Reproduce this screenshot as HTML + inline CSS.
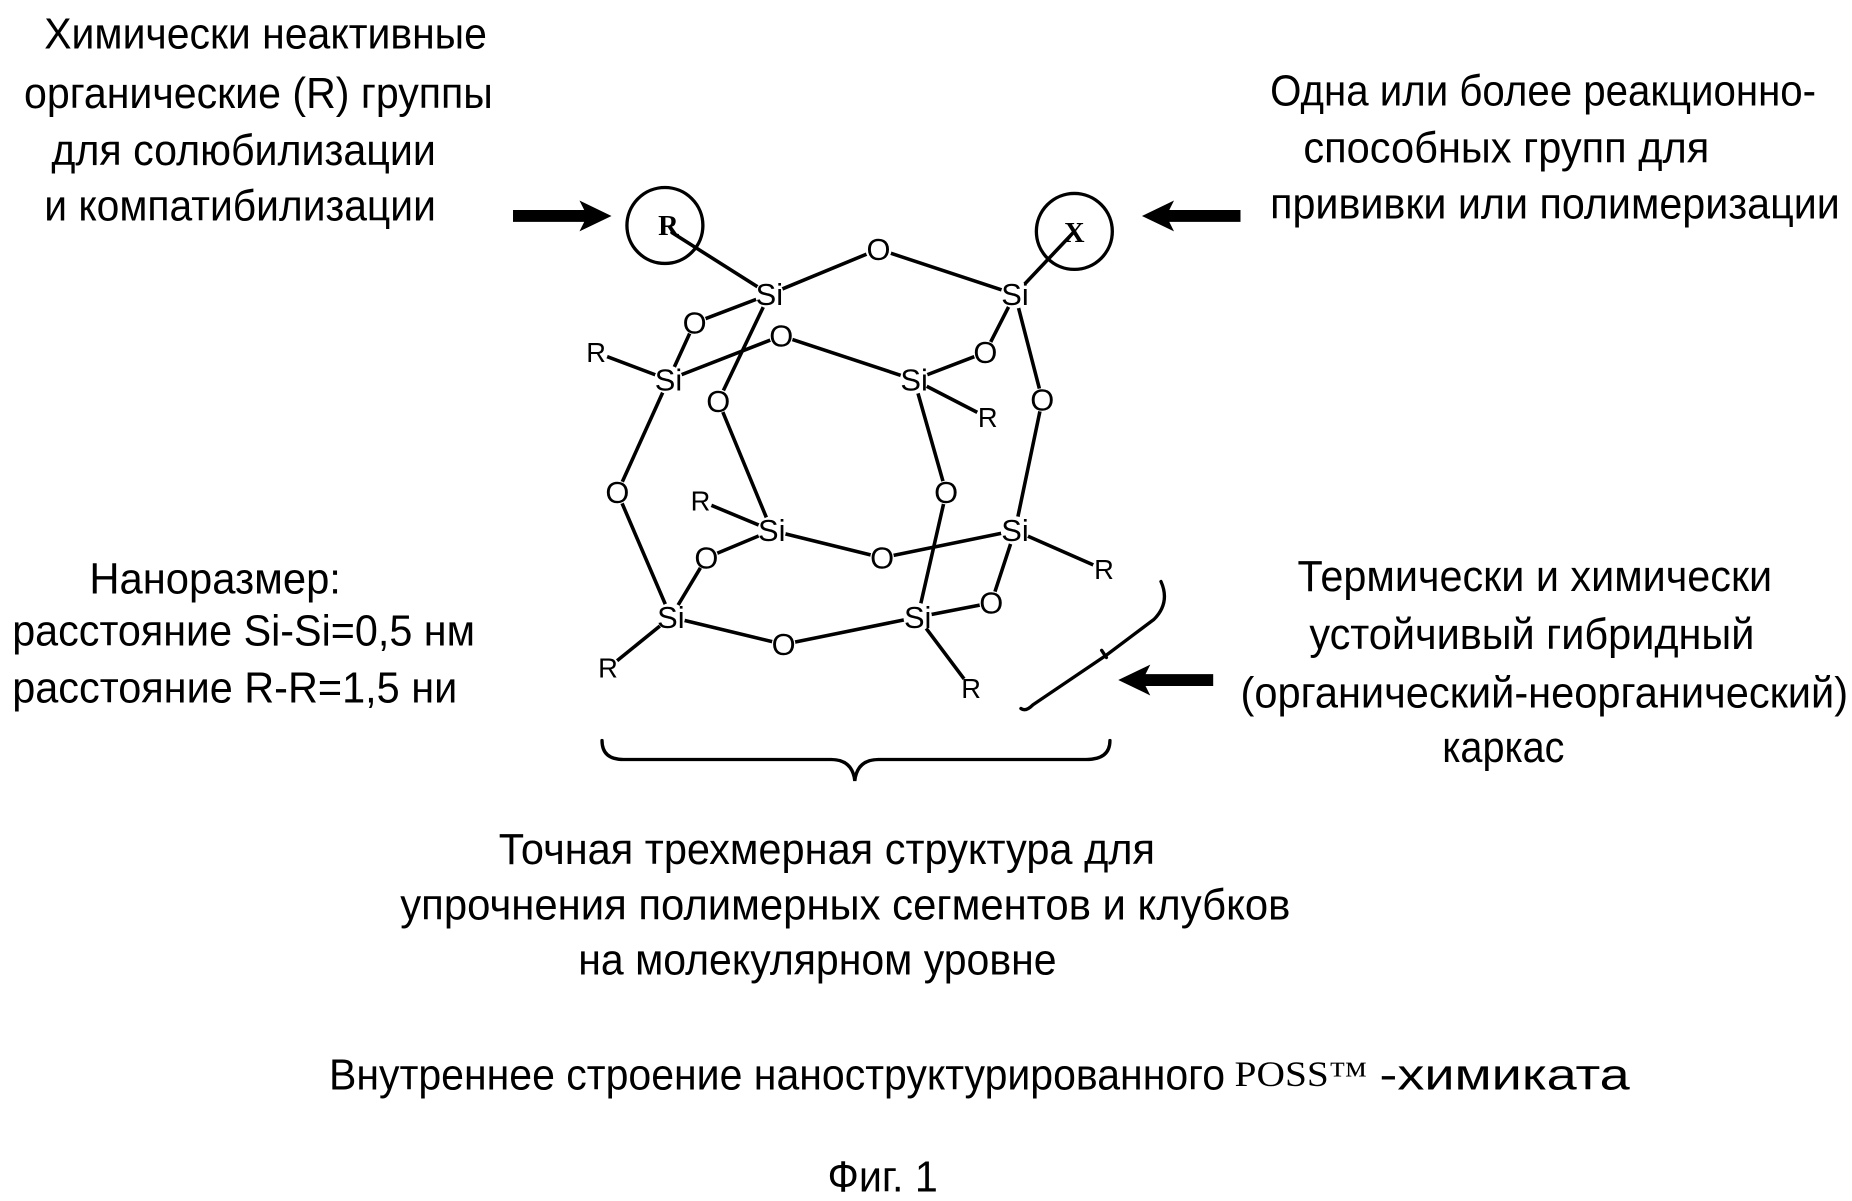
<!DOCTYPE html>
<html><head><meta charset="utf-8"><style>
html,body{margin:0;padding:0;background:#fff;}
svg{display:block;}
text{font-family:"Liberation Sans",sans-serif;fill:#000;}
.t{font-size:37px;}
.a{font-size:26px;}
.r{font-size:23px;}
</style></head><body>
<svg width="1852" height="1201" viewBox="0 0 1560 1012" xmlns="http://www.w3.org/2000/svg">
<rect width="1560" height="1012" fill="#fff"/>
<g class="t">
<text x="37" y="41" textLength="373" lengthAdjust="spacingAndGlyphs">Химически неактивные</text>
<text x="20" y="91" textLength="395" lengthAdjust="spacingAndGlyphs">органические (R) группы</text>
<text x="43" y="139" textLength="324" lengthAdjust="spacingAndGlyphs">для солюбилизации</text>
<text x="37" y="186" textLength="330" lengthAdjust="spacingAndGlyphs">и компатибилизации</text>
<text x="1070" y="89" textLength="460" lengthAdjust="spacingAndGlyphs">Одна или более реакционно-</text>
<text x="1098" y="137" textLength="342" lengthAdjust="spacingAndGlyphs">способных групп для</text>
<text x="1070" y="184" textLength="480" lengthAdjust="spacingAndGlyphs">прививки или полимеризации</text>
<text x="75" y="500" textLength="212" lengthAdjust="spacingAndGlyphs">Наноразмер:</text>
<text x="10" y="544" textLength="390" lengthAdjust="spacingAndGlyphs">расстояние Si-Si=0,5 нм</text>
<text x="10" y="592" textLength="375" lengthAdjust="spacingAndGlyphs">расстояние R-R=1,5 ни</text>
<text x="1093" y="498" textLength="400" lengthAdjust="spacingAndGlyphs">Термически и химически</text>
<text x="1103" y="547" textLength="375" lengthAdjust="spacingAndGlyphs">устойчивый гибридный</text>
<text x="1045" y="596" textLength="512" lengthAdjust="spacingAndGlyphs">(органический-неорганический)</text>
<text x="1215" y="642" textLength="103" lengthAdjust="spacingAndGlyphs">каркас</text>
<text x="420" y="728" textLength="553" lengthAdjust="spacingAndGlyphs">Точная трехмерная структура для</text>
<text x="337" y="775" textLength="750" lengthAdjust="spacingAndGlyphs">упрочнения  полимерных сегментов и клубков</text>
<text x="487" y="821" textLength="403" lengthAdjust="spacingAndGlyphs">на молекулярном уровне</text>
<text x="277" y="918" textLength="755" lengthAdjust="spacingAndGlyphs">Внутреннее строение наноструктурированного</text>
<text x="1040" y="915" style="font-family:'Liberation Serif',serif;font-size:30px" textLength="112" lengthAdjust="spacingAndGlyphs">POSS™</text>
<text x="1162" y="918" textLength="211" lengthAdjust="spacingAndGlyphs">-химиката</text>
<text x="697" y="1004" textLength="93" lengthAdjust="spacingAndGlyphs">Фиг. 1</text>
</g>
<g fill="#000">
<polygon points="432,177 492,177 488,169 515,182 488,195 492,187 432,187"/>
<polygon points="1045,177 985,177 989,169 962,182 989,195 985,187 1045,187"/>
<polygon points="1022,568 965,568 969,560 942,573 969,586 965,578 1022,578"/>
</g>
<g fill="none" stroke="#000" stroke-width="2.8" stroke-linecap="round">
<circle cx="560" cy="190" r="32"/>
<circle cx="905" cy="195" r="32"/>
<path d="M978,490 Q986,508 972,522 L932,552 L870,594 Q864,600 860,597"/>
<path d="M928,548 l4,6"/>
<path d="M507,624 Q507,640 525,640 L700,640 Q718,640 720,658 Q722,640 740,640 L915,640 Q935,640 935,624"/>
</g>
<g stroke="#000" stroke-width="3" stroke-linecap="round">
<line x1="566" y1="196" x2="648" y2="248"/>
<line x1="648" y1="248" x2="740" y2="210"/>
<line x1="740" y1="210" x2="855" y2="248"/>
<line x1="855" y1="248" x2="905" y2="195"/>
<line x1="648" y1="248" x2="585" y2="272"/>
<line x1="585" y1="272" x2="563" y2="320"/>
<line x1="648" y1="248" x2="605" y2="338"/>
<line x1="563" y1="320" x2="658" y2="283"/>
<line x1="658" y1="283" x2="770" y2="320"/>
<line x1="855" y1="248" x2="830" y2="297"/>
<line x1="830" y1="297" x2="770" y2="320"/>
<line x1="855" y1="248" x2="878" y2="337"/>
<line x1="878" y1="337" x2="855" y2="447"/>
<line x1="563" y1="320" x2="520" y2="415"/>
<line x1="520" y1="415" x2="565" y2="520"/>
<line x1="605" y1="338" x2="650" y2="447"/>
<line x1="770" y1="320" x2="797" y2="415"/>
<line x1="797" y1="415" x2="773" y2="520"/>
<line x1="650" y1="447" x2="743" y2="470"/>
<line x1="743" y1="470" x2="855" y2="447"/>
<line x1="650" y1="447" x2="595" y2="470"/>
<line x1="595" y1="470" x2="565" y2="520"/>
<line x1="855" y1="447" x2="835" y2="508"/>
<line x1="835" y1="508" x2="773" y2="520"/>
<line x1="565" y1="520" x2="660" y2="543"/>
<line x1="660" y1="543" x2="773" y2="520"/>
<line x1="502" y1="297" x2="563" y2="320"/>
<line x1="770" y1="320" x2="832" y2="352"/>
<line x1="590" y1="422" x2="650" y2="447"/>
<line x1="855" y1="447" x2="930" y2="480"/>
<line x1="565" y1="520" x2="512" y2="563"/>
<line x1="773" y1="520" x2="818" y2="580"/>
</g>
<g fill="#fff">
<circle cx="740" cy="210" r="11"/>
<circle cx="648" cy="248" r="12"/><circle cx="855" cy="248" r="12"/>
<circle cx="585" cy="272" r="10"/><circle cx="658" cy="283" r="10"/><circle cx="830" cy="297" r="10"/>
<circle cx="563" cy="320" r="12"/><circle cx="770" cy="320" r="12"/>
<circle cx="605" cy="338" r="10"/><circle cx="878" cy="337" r="10"/>
<circle cx="520" cy="415" r="10"/><circle cx="797" cy="415" r="10"/>
<circle cx="650" cy="447" r="12"/><circle cx="855" cy="447" r="12"/>
<circle cx="743" cy="470" r="10"/><circle cx="595" cy="470" r="10"/><circle cx="835" cy="508" r="10"/>
<circle cx="565" cy="520" r="12"/><circle cx="773" cy="520" r="12"/>
<circle cx="660" cy="543" r="10"/>
<circle cx="502" cy="297" r="10"/><circle cx="832" cy="352" r="10"/><circle cx="590" cy="422" r="10"/>
<circle cx="930" cy="480" r="10"/><circle cx="512" cy="563" r="10"/><circle cx="818" cy="580" r="10"/>
</g>
<g class="a" text-anchor="middle">
<text x="740" y="219">O</text>
<text x="648" y="257">Si</text><text x="855" y="257">Si</text>
<text x="585" y="281">O</text><text x="658" y="292">O</text><text x="830" y="306">O</text>
<text x="563" y="329">Si</text><text x="770" y="329">Si</text>
<text x="605" y="347">O</text><text x="878" y="346">O</text>
<text x="520" y="424">O</text><text x="797" y="424">O</text>
<text x="650" y="456">Si</text><text x="855" y="456">Si</text>
<text x="743" y="479">O</text><text x="595" y="479">O</text><text x="835" y="517">O</text>
<text x="565" y="529">Si</text><text x="773" y="529">Si</text>
<text x="660" y="552">O</text>
</g>
<g class="r" text-anchor="middle">
<text x="502" y="305">R</text><text x="832" y="360">R</text><text x="590" y="430">R</text>
<text x="930" y="488">R</text><text x="512" y="571">R</text><text x="818" y="588">R</text>
</g>
<g text-anchor="middle">
<text x="563" y="198" style="font-family:'Liberation Serif',serif;font-size:24px;font-weight:bold">R</text>
<text x="905" y="204" style="font-family:'Liberation Serif',serif;font-size:24px;font-weight:bold">X</text>
</g>
</svg>
</body></html>
